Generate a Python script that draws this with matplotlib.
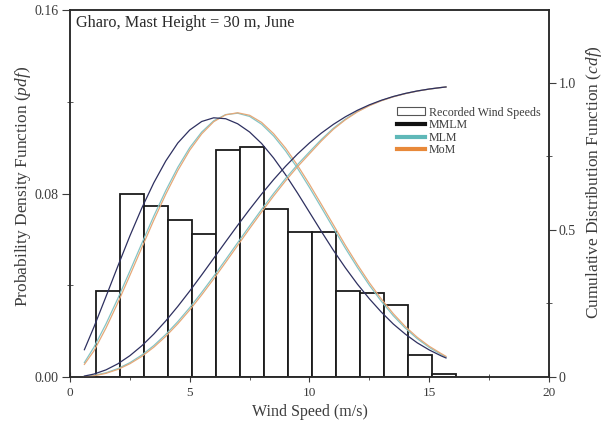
import matplotlib
matplotlib.use("Agg")
import matplotlib.pyplot as plt
from matplotlib.patches import Patch
from matplotlib.lines import Line2D

plt.rcParams['font.family'] = ['Liberation Serif', 'DejaVu Serif']
plt.rcParams['mathtext.fontset'] = 'custom'
plt.rcParams['mathtext.it'] = 'Liberation Serif:italic'
plt.rcParams['mathtext.rm'] = 'Liberation Serif'

# Recorded wind speed histogram (1 m/s bins)
bin_left = [1.1, 2.1, 3.1, 4.1, 5.1, 6.1, 7.1, 8.1, 9.1, 10.1, 11.1, 12.1, 13.1, 14.1, 15.1]
recorded = [0.0376, 0.0797, 0.0746, 0.0683, 0.0622, 0.0988, 0.1001, 0.0734, 0.0630,
            0.0630, 0.0376, 0.0366, 0.0315, 0.0096, 0.0013]

# Fitted curves
speed = [0.6, 1.0, 1.5, 2.0, 2.5, 3.0, 3.5, 4.0, 4.5, 5.0, 5.5, 6.0, 6.5, 7.0, 7.5, 8.0,
         8.5, 9.0, 9.5, 10.0, 10.5, 11.0, 11.5, 12.0, 12.5, 13.0, 13.5, 14.0, 14.5,
         15.0, 15.5, 15.7]

mmlm_pdf = [0.0119, 0.0218, 0.0350, 0.0484, 0.0615, 0.0737, 0.0847, 0.0942, 0.1020,
            0.1077, 0.1114, 0.1130, 0.1126, 0.1104, 0.1068, 0.1018, 0.0955, 0.0882,
            0.0802, 0.0718, 0.0634, 0.0552, 0.0476, 0.0405, 0.0341, 0.0283, 0.0231,
            0.0187, 0.0149, 0.0118, 0.0092, 0.0083]
mlm_pdf = [0.0063, 0.0130, 0.0231, 0.0343, 0.0462, 0.0583, 0.0702, 0.0813, 0.0914,
           0.1000, 0.1068, 0.1117, 0.1144, 0.1150, 0.1136, 0.1102, 0.1051, 0.0986,
           0.0910, 0.0826, 0.0738, 0.0649, 0.0561, 0.0478, 0.0400, 0.0330, 0.0267,
           0.0213, 0.0167, 0.0129, 0.0098, 0.0087]
mom_pdf = [0.0055, 0.0114, 0.0213, 0.0324, 0.0443, 0.0564, 0.0684, 0.0797, 0.0900,
           0.0989, 0.1060, 0.1113, 0.1143, 0.1152, 0.1141, 0.1110, 0.1061, 0.0998,
           0.0923, 0.0840, 0.0752, 0.0663, 0.0574, 0.0490, 0.0411, 0.0340, 0.0276,
           0.0220, 0.0173, 0.0134, 0.0102, 0.0090]

mmlm_cdf = [0.0033, 0.0100, 0.0242, 0.0450, 0.0725, 0.1063, 0.1461, 0.1909, 0.2400,
            0.2924, 0.3473, 0.4036, 0.4600, 0.5158, 0.5701, 0.6220, 0.6710, 0.7165,
            0.7583, 0.7960, 0.8296, 0.8592, 0.8849, 0.9069, 0.9255, 0.9410, 0.9539,
            0.9643, 0.9727, 0.9793, 0.9845, 0.9863]
mlm_cdf = [0.0016, 0.0054, 0.0143, 0.0286, 0.0487, 0.0748, 0.1070, 0.1449, 0.1882,
           0.2360, 0.2878, 0.3425, 0.3991, 0.4566, 0.5138, 0.5698, 0.6238, 0.6748,
           0.7222, 0.7657, 0.8080, 0.8460, 0.8770, 0.9030, 0.9235, 0.9400, 0.9532,
           0.9638, 0.9724, 0.9791, 0.9844, 0.9862]
mom_cdf = [0.0012, 0.0041, 0.0124, 0.0259, 0.0451, 0.0701, 0.1014, 0.1384, 0.1809,
           0.2281, 0.2793, 0.3336, 0.3900, 0.4474, 0.5048, 0.5610, 0.6154, 0.6669,
           0.7149, 0.7591, 0.8030, 0.8425, 0.8748, 0.9015, 0.9226, 0.9394, 0.9528,
           0.9635, 0.9722, 0.9790, 0.9843, 0.9862]

txt = '#3c3c3c'
c_mmlm, c_mlm, c_mom = '#2e3060', '#85c4c4', '#e6a878'

fig = plt.figure(figsize=(6.12, 4.29), dpi=100)
ax = fig.add_axes([0.1144, 0.1212, 0.7826, 0.8555])
ax2 = ax.twinx()

ax.bar(bin_left, recorded, width=1.0, align='edge', color='white',
       edgecolor='#1a1a1a', linewidth=1.3, zorder=2)

ax.plot(speed, mlm_pdf, color=c_mlm, lw=0.9, zorder=3)
ax.plot(speed, mom_pdf, color=c_mom, lw=0.9, zorder=3)
ax.plot(speed, mmlm_pdf, color=c_mmlm, lw=0.9, zorder=4)
ax2.plot(speed, mlm_cdf, color=c_mlm, lw=0.9)
ax2.plot(speed, mom_cdf, color=c_mom, lw=0.9)
ax2.plot(speed, mmlm_cdf, color=c_mmlm, lw=0.9)

ax.set_xlim(0, 20)
ax.set_ylim(0, 0.16)
ax2.set_ylim(0, 1.248)

ax.set_xticks([0, 5, 10, 15, 20])
ax.set_xticks([2.5, 7.5, 12.5, 17.5], minor=True)
ax.set_yticks([0, 0.08, 0.16])
ax.set_yticklabels(['0.00', '0.08', '0.16'])
ax.set_yticks([0.04, 0.12], minor=True)
ax2.set_yticks([0, 0.5, 1.0])
ax2.set_yticklabels(['0', '0.5', '1.0'])
ax2.set_yticks([0.25, 0.75], minor=True)

ax.tick_params(axis='x', which='major', direction='inout', length=7, colors=txt, labelsize=9.5)
ax.tick_params(axis='x', which='minor', direction='inout', length=4, color=txt)
ax.tick_params(axis='y', which='major', direction='out', length=6, pad=2, colors=txt, labelsize=10)
ax.tick_params(axis='y', which='minor', direction='inout', length=4, color=txt)
ax2.tick_params(axis='y', which='major', direction='out', length=5, pad=2, colors=txt, labelsize=10)
ax2.tick_params(axis='y', which='minor', direction='inout', length=4, color=txt)

for a in (ax, ax2):
    for s in a.spines.values():
        s.set_color('#2a2a2a')
        s.set_linewidth(1.1)

ax.set_xlabel('Wind Speed (m/s)', fontsize=11.5, color=txt, labelpad=4)
ax.set_ylabel('Probability Density Function ($\\mathit{pdf}$)', fontsize=12.5, color=txt, labelpad=1)
ax2.set_ylabel('Cumulative Distribution Function ($\\mathit{cdf}$)', fontsize=12.5, color=txt, labelpad=6)
ax.yaxis.label.set_y(0.52)
ax2.yaxis.label.set_y(0.53)

ax.text(0.013, 0.987, 'Gharo, Mast Height = 30 m, June', transform=ax.transAxes,
        ha='left', va='top', fontsize=11.7, color='#2a2a2a')

handles = [Patch(facecolor='white', edgecolor='#555555', linewidth=0.8),
           Line2D([], [], color='#111111', lw=3),
           Line2D([], [], color='#5fb8b8', lw=3),
           Line2D([], [], color='#e8893a', lw=3)]
labels = ['Recorded Wind Speeds', 'MMLM', 'MLM', 'MoM']
leg = ax2.legend(handles, labels, loc='upper left', bbox_to_anchor=(0.672, 0.75),
                 frameon=False, fontsize=8.6, labelspacing=0.05, handlelength=2.35,
                 handleheight=0.65, handletextpad=0.35, borderaxespad=0)
for t in leg.get_texts():
    t.set_color(txt)

fig.savefig('out.png', dpi=100)
